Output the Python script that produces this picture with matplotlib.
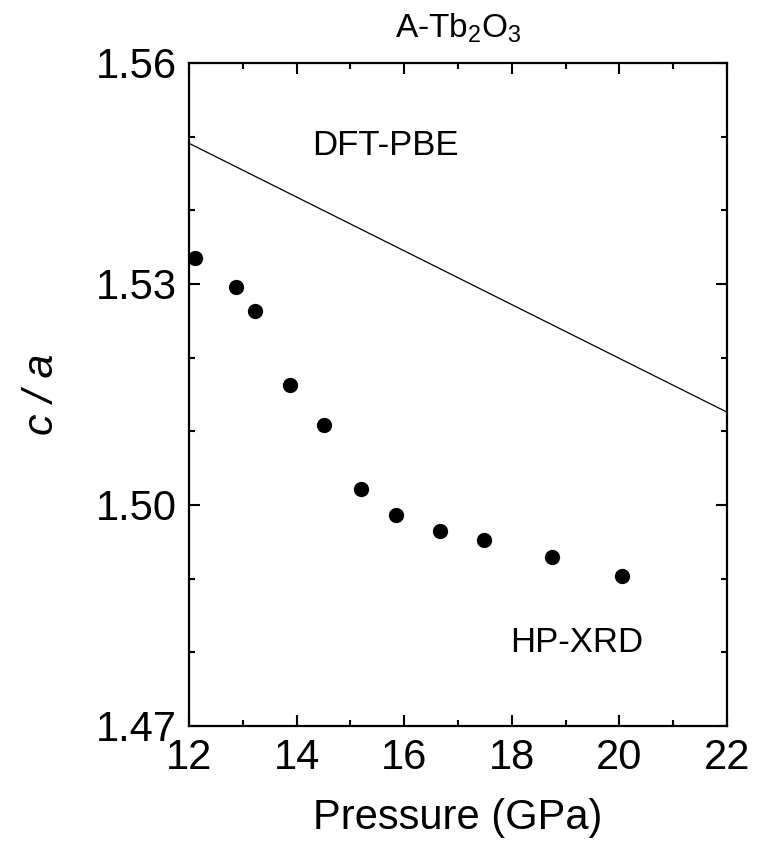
import matplotlib
matplotlib.use('Agg')
import matplotlib.pyplot as plt
from matplotlib.ticker import MultipleLocator

plt.rcParams['font.family'] = ['Liberation Sans', 'DejaVu Sans']
plt.rcParams['mathtext.fontset'] = 'custom'
plt.rcParams['mathtext.rm'] = 'Liberation Sans'
plt.rcParams['mathtext.it'] = 'Liberation Sans:italic'

# HP-XRD measured c/a ratio
pressure_xrd = [12.12, 12.87, 13.23, 13.88, 14.50, 15.19, 15.85, 16.67, 17.49, 18.75, 20.04]
ca_xrd = [1.5335, 1.5296, 1.5264, 1.5163, 1.5108, 1.5022, 1.4987, 1.4965, 1.4952, 1.4929, 1.4903]

# DFT-PBE calculation (straight line across the range)
pressure_dft = [12, 22]
ca_dft = [1.5491, 1.5126]

fig = plt.figure(figsize=(7.6, 8.63), dpi=100)
ax = fig.add_axes([0.2487, 0.1588, 0.7079, 0.7682])

ax.plot(pressure_dft, ca_dft, color='black', lw=0.9)
ax.plot(pressure_xrd, ca_xrd, 'o', color='black', markersize=11, markeredgewidth=0)

ax.set_xlim(12, 22)
ax.set_ylim(1.47, 1.56)
ax.xaxis.set_major_locator(MultipleLocator(2))
ax.xaxis.set_minor_locator(MultipleLocator(1))
ax.yaxis.set_major_locator(MultipleLocator(0.03))
ax.yaxis.set_minor_locator(MultipleLocator(0.01))
ax.yaxis.set_major_formatter(matplotlib.ticker.FormatStrFormatter('%.2f'))

ax.tick_params(which='both', direction='in', top=True, right=True, width=1.5)
ax.tick_params(which='major', length=8, labelsize=30)
ax.tick_params(axis='x', which='major', pad=9)
ax.tick_params(axis='y', which='major', pad=9)
ax.tick_params(which='minor', length=4.5)
for sp in ax.spines.values():
    sp.set_linewidth(1.6)

ax.set_xlabel('Pressure (GPa)', fontsize=30, labelpad=14)
ax.set_ylabel('c / a', fontsize=31, style='italic', labelpad=24)
ax.set_title(r'A-Tb$_2$O$_3$', fontsize=24, pad=18)

ax.text(14.29, 1.5475, 'DFT-PBE', fontsize=25, ha='left', va='baseline')
ax.text(17.97, 1.4800, 'HP-XRD', fontsize=25, ha='left', va='baseline')

plt.savefig('out.png', dpi=100)
